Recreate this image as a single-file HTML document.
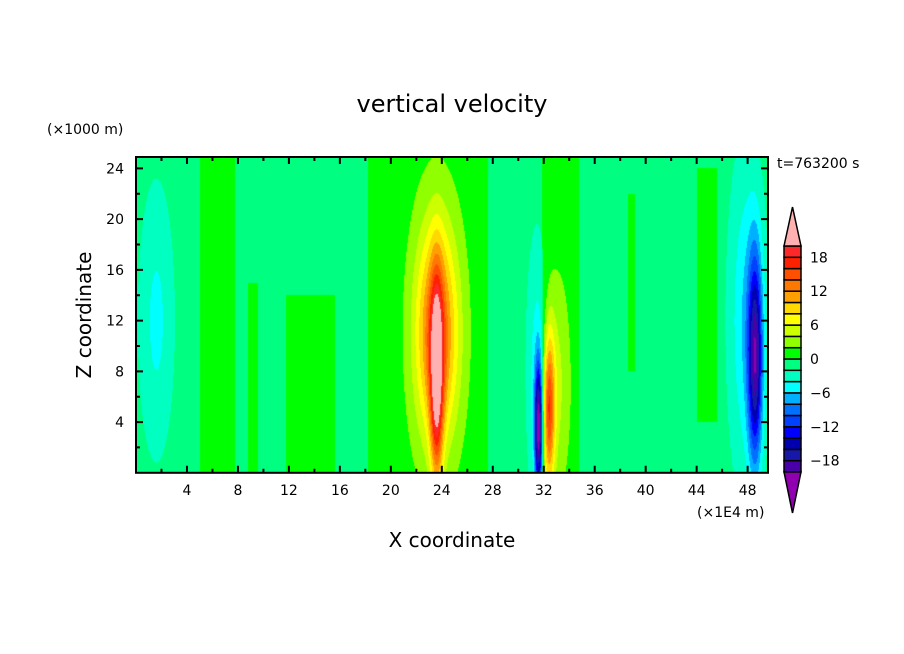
<!DOCTYPE html>
<html><head><meta charset="utf-8"><style>
body{margin:0;background:#fff;}
#wrap{position:relative;width:904px;height:654px;overflow:hidden;font-family:"DejaVu Sans","Liberation Sans",sans-serif;}
canvas{position:absolute;left:0;top:0;}
svg{position:absolute;left:0;top:0;}
</style></head><body>
<div id="wrap">
<canvas id="cv" width="904" height="654"></canvas>
<svg id="sv" width="904" height="654"></svg>
</div>
<script>
// data
const levelColors = ["#4a00a8","#1818a8","#0000b0","#0000ff","#0040ff","#0070ff","#00b0ff","#00ffff","#00ffc0","#00ff80","#00ff00","#90ff00","#ccff00","#ffff00","#ffd800","#ffa000","#ff7800","#ff5000","#ff2000","#ff2828"];
const levelMin = -20, levelStep = 2;
const overColor = "#ffb0b0", underColor = "#9000b0";
const colorbarTicks = [18,12,6,0,-6,-12,-18];
const xTicks = [4,8,12,16,20,24,28,32,36,40,44,48];
const zTicks = [4,8,12,16,20,24];
const background = -1;
// positive weak bands: x0,x1,z0,z1
const bandX0 = [5.0, 8.8, 11.8, 18.2, 31.9, 38.6, 44.0];
const bandX1 = [7.8, 9.6, 15.6, 27.6, 34.8, 39.2, 45.6];
const bandZ0 = [0, 0, 0, 0, 0, 8, 4];
const bandZ1 = [25, 15, 14, 25, 25, 22, 24];
// gaussian plumes
const plumeX = [23.6, 23.6, 31.6, 31.5, 32.4, 33.0, 48.6, 47.9, 1.6];
const plumeZ = [11, 7, 3.5, 8, 5, 7, 9, 12, 12];
const plumeSX = [1.65, 0.5, 0.3, 0.8, 0.45, 1.0, 0.55, 1.3, 1.3];
const plumeSZ = [8.5, 8, 5, 10, 6, 8, 8, 12, 10];
const plumeAmp = [14, 15, -19, -4, 14, 3.5, -16, -5, -3.5];

const L=136,R=768,T=157,B=472.8, XMAX=49.6, ZMAX=24.9;
function xs(x){return L+(x/XMAX)*(R-L);}
function zs(z){return B-(z/ZMAX)*(B-T);}
function field(x,z){
  let v=background;
  for(let i=0;i<bandX0.length;i++) if(x>=bandX0[i]&&x<=bandX1[i]&&z>=bandZ0[i]&&z<=bandZ1[i]) v=1;
  for(let i=0;i<plumeX.length;i++){
    const dx=(x-plumeX[i])/plumeSX[i], dz=(z-plumeZ[i])/plumeSZ[i];
    v+=plumeAmp[i]*Math.exp(-dx*dx-dz*dz);
  }
  return v;
}
function colorOf(v){
  const k=Math.floor((v-levelMin)/levelStep);
  if(k<0) return underColor;
  if(k>=levelColors.length) return overColor;
  return levelColors[k];
}
const ctx=document.getElementById('cv').getContext('2d');
for(let px=L;px<R;px++){
  for(let py=T;py<B;py+=1){
    const x=(px+0.5-L)/(R-L)*XMAX, z=(B-py-0.5)/(B-T)*ZMAX;
    ctx.fillStyle=colorOf(field(x,z));
    ctx.fillRect(px,py,1,1);
  }
}
const sv=document.getElementById('sv'), NS="http://www.w3.org/2000/svg";
function mk(t,a,txt){const e=document.createElementNS(NS,t);for(const k in a)e.setAttribute(k,a[k]);if(txt!=null)e.textContent=txt;sv.appendChild(e);return e;}
let e;
e=mk('rect',{x:L,y:T,width:R-L,height:B-T,fill:'none',stroke:'#000','stroke-width':2});


for(let x=2;x<XMAX;x+=2){
  const maj=x%4===0, len=maj?7:4;
  e=mk('path',{d:`M${xs(x)},${B}v${-len}M${xs(x)},${T}v${len}`,stroke:'#000','stroke-width':2});
  
  
}
for(let z=2;z<ZMAX;z+=2){
  const maj=z%4===0, len=maj?7:4;
  e=mk('path',{d:`M${L},${zs(z)}h${len}M${R},${zs(z)}h${-len}`,stroke:'#000','stroke-width':2});
  
  
}
xTicks.forEach(t=>{e=mk('text',{x:xs(t),y:495,'font-size':14,'text-anchor':'middle'},String(t));
  
  });
zTicks.forEach(t=>{e=mk('text',{x:124,y:zs(t)+5,'font-size':14,'text-anchor':'end'},String(t));
  
  });
e=mk('text',{x:452,y:112,'font-size':24,'text-anchor':'middle'},'vertical velocity');


e=mk('text',{x:47,y:134,'font-size':14},'(×1000 m)');


e=mk('text',{x:777,y:168,'font-size':14},'t=763200 s');


e=mk('text',{x:697,y:517,'font-size':14},'(×1E4 m)');


e=mk('text',{x:452,y:547,'font-size':20,'text-anchor':'middle'},'X coordinate');


e=mk('text',{x:0,y:0,'font-size':20,'text-anchor':'middle',transform:'translate(91,315) rotate(-90)'},'Z coordinate');


// colorbar
const CB_L=784,CB_W=17,CB_T=246,CB_B=472;
const bh=(CB_B-CB_T)/levelColors.length;
function cy(v){return CB_B-(v-levelMin)/levelStep*bh;}
levelColors.forEach((c,i)=>{e=mk('rect',{x:CB_L,y:CB_B-(i+1)*bh,width:CB_W,height:bh,fill:c,stroke:'#000','stroke-width':1.5});
  
  });
e=mk('path',{d:`M${CB_L},${CB_T}L${CB_L+CB_W/2},207L${CB_L+CB_W},${CB_T}Z`,fill:overColor,stroke:'#000','stroke-width':1.5});


e=mk('path',{d:`M${CB_L},${CB_B}L${CB_L+CB_W/2},513L${CB_L+CB_W},${CB_B}Z`,fill:underColor,stroke:'#000','stroke-width':1.5});


colorbarTicks.forEach(t=>{e=mk('text',{x:810,y:cy(t)+5,'font-size':14},String(t).replace('-','−'));
  
  });
</script>
</body></html>
